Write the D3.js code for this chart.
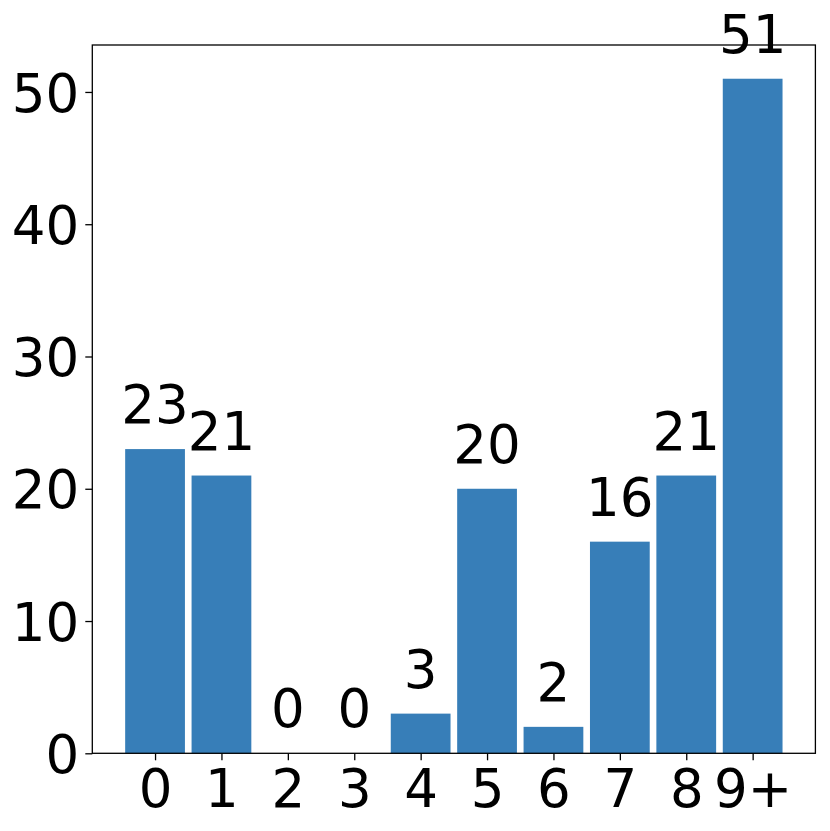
<!DOCTYPE html>
<html>
<head>
<meta charset="utf-8">
<script src="https://cdn.jsdelivr.net/npm/d3@7"></script>
<style>
  body { margin: 0; background: #fff; }
  svg { display: block; }
  text { font-family: "DejaVu Sans", sans-serif; fill: #000; }
</style>
</head>
<body>
<svg id="chart" width="830" height="831"></svg>
<script>
const categories = ["0", "1", "2", "3", "4", "5", "6", "7", "8", "9+"];
const counts = [23, 21, 0, 0, 3, 20, 2, 16, 21, 51];
const yTicks = [0, 10, 20, 30, 40, 50];

const W = 830, H = 831;
const margin = { left: 92.3, right: 830 - 815.4, top: 45, bottom: 831 - 753.3 };
const svg = d3.select("#chart");
const iw = W - margin.left - margin.right;
const ih = H - margin.top - margin.bottom;
const g = svg.append("g").attr("transform", `translate(${margin.left},${margin.top})`);

const idx = categories.map((d, i) => i);
const x = d3.scaleLinear().domain([-0.945, categories.length - 1 + 0.945]).range([0, iw]);
const ymax = d3.max(counts) * 1.05;
const y = d3.scaleLinear().domain([0, ymax]).range([ih, 0]);
const bw = 0.9;
const fs = 53;

g.selectAll("rect.bar").data(counts).join("rect")
  .attr("class", "bar")
  .attr("x", (d, i) => x(i - bw / 2))
  .attr("width", (d, i) => x(i + bw / 2) - x(i - bw / 2))
  .attr("y", d => y(d))
  .attr("height", d => y(0) - y(d))
  .attr("fill", "#377eb8");

g.selectAll("text.lbl").data(counts).join("text")
  .attr("class", "lbl")
  .attr("x", (d, i) => x(i))
  .attr("y", d => y(d) - 26)
  .attr("text-anchor", "middle")
  .style("font-size", fs + "px")
  .text(d => d);

// axes
const xAxis = d3.axisBottom(x).tickValues(idx).tickFormat(i => categories[i])
  .tickSize(7).tickPadding(7).tickSizeOuter(0);
const gx = g.append("g").attr("transform", `translate(0,${ih})`).call(xAxis);
gx.select(".domain").remove();
gx.selectAll("line").attr("stroke", "#000").attr("stroke-width", 1.3);
gx.selectAll("text").style("font-size", fs + "px").attr("dy", null).attr("y", 807 - 753.3);

const yAxis = d3.axisLeft(y).tickValues(yTicks).tickSize(7).tickPadding(6).tickSizeOuter(0);
const gy = g.append("g").call(yAxis);
gy.select(".domain").remove();
gy.selectAll("line").attr("stroke", "#000").attr("stroke-width", 1.3);
gy.selectAll("text").style("font-size", fs + "px").attr("dy", "0.36em");

// frame
g.append("rect").attr("x", 0).attr("y", 0).attr("width", iw).attr("height", ih)
  .attr("fill", "none").attr("stroke", "#000").attr("stroke-width", 1.3);
</script>
</body>
</html>
